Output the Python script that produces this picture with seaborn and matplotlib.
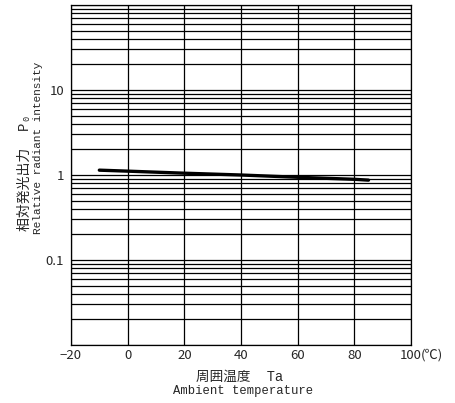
import matplotlib
matplotlib.use("Agg")
import matplotlib.pyplot as plt
import seaborn as sns
import numpy as np
import pandas as pd

# data
temperature = [-10, 0, 20, 40, 60, 80, 85]
intensity = [1.14, 1.11, 1.05, 1.0, 0.94, 0.89, 0.87]
x_ticks = [-20, 0, 20, 40, 60, 80, 100]
x_tick_labels = ["\u221220", "0", "20", "40", "60", "80", "100"]
y_ticks = [0.1, 1, 10]
y_tick_labels = ["0.1", "1", "10"]

sns.set_style("white")
plt.rcParams['font.family'] = ['Noto Sans CJK JP', 'DejaVu Sans']
MONO = ['Liberation Mono', 'Noto Sans CJK JP', 'DejaVu Sans']
CJK = ['Noto Sans CJK JP', 'DejaVu Sans']

W, H = 455, 403
fig = plt.figure(figsize=(W / 100, H / 100), dpi=100)
ax = fig.add_axes([71 / W, 1 - 345 / H, 340 / W, 340 / H])

df = pd.DataFrame({"Ta": temperature, "Po": intensity})

ax.set_yscale("log")
ax.set_xlim(-20, 100)
ax.set_ylim(0.01, 100)

# grid lines
for dec in [0.01, 0.1, 1, 10]:
    for m in range(1, 10):
        ax.axhline(dec * m, color="black", lw=0.9, zorder=1)
ax.axhline(100, color="black", lw=0.9, zorder=1)
for xv in x_ticks:
    ax.axvline(xv, color="black", lw=0.9, zorder=1)

sns.lineplot(data=df, x="Ta", y="Po", ax=ax, color="black", lw=2.4, zorder=3)

ax.set_xticks(x_ticks)
ax.set_xticklabels(x_tick_labels, fontsize=9.5, family=CJK)
ax.set_yticks(y_ticks)
ax.set_yticklabels(y_tick_labels, fontsize=9.5, family=CJK)
ax.yaxis.set_minor_locator(matplotlib.ticker.NullLocator())
ax.tick_params(axis="x", length=0, pad=3)
ax.tick_params(axis="y", length=0, pad=5)
ax.set_xlabel("")
ax.set_ylabel("")

def fx(px):
    return px / W

def fy(py):
    return 1 - py / H

fig.text(fx(421), fy(355), "(\u2103)", ha="left", va="center", fontsize=9.5, family=CJK)

# x label
fig.text(fx(240), fy(377), "周囲温度  Ta", ha="center", va="center", fontsize=9.8, family=MONO)
fig.text(fx(243), fy(391), "Ambient temperature", ha="center", va="center", fontsize=8.8, family=MONO)

# y label
fig.text(fx(25), fy(231), "相対発光出力  P\u2080", ha="center", va="bottom", rotation=90,
         fontsize=10, family=MONO)
fig.text(fx(38), fy(234), "Relative radiant intensity", ha="center", va="bottom", rotation=90,
         fontsize=8, family=MONO)

for s in ax.spines.values():
    s.set_color("black")
    s.set_linewidth(0.9)

fig.savefig("out.png", dpi=100)
